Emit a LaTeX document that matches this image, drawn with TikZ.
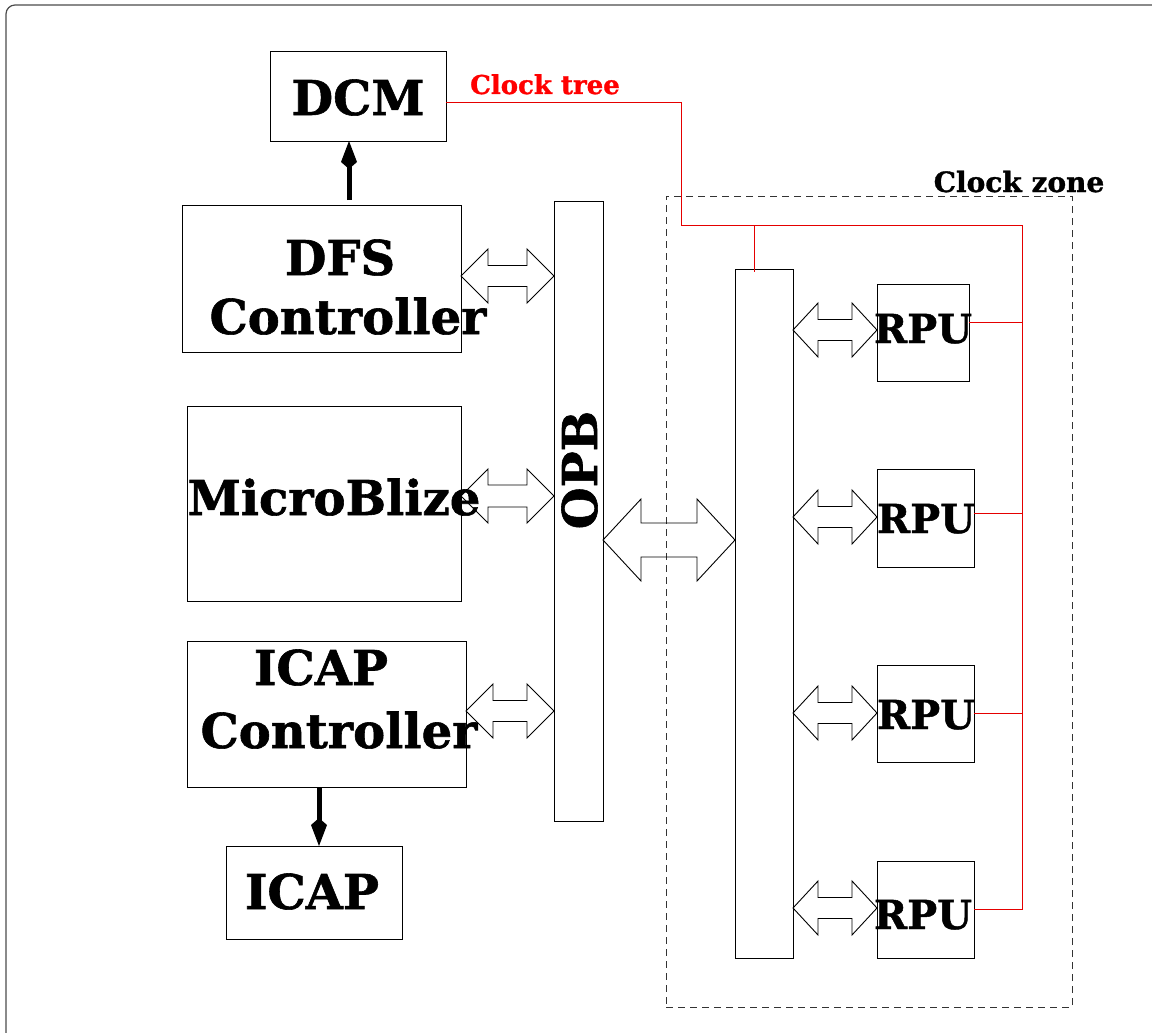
\documentclass[tikz,border=0pt]{standalone}
\usepackage{fontspec}
\setmainfont{DejaVu Serif}[BoldFeatures={FakeBold=1.2}]
\usetikzlibrary{arrows.meta,calc}
\newcommand\dblarr[6]{% left anchor, right anchor, y, head length, head half height, shaft half height
  \draw[hollow] let \p1=(#1), \p2=(#2) in
    (\x1,-#3pt) -- ++(#4,-#5) -- ++(0,#5-#6) -- (\x2-#4pt,-#3pt+#6pt) -- ++(0,-#5+#6)
    -- (\x2,-#3pt) -- ++(-#4,#5) -- ++(0,-#5+#6) -- (\x1+#4pt,-#3pt-#6pt) -- ++(0,#5-#6) -- cycle;}
\begin{document}
\begin{tikzpicture}[x=1pt,y=-1pt,
  box/.style={draw=black, line width=1pt, inner sep=0pt, outer sep=0pt, anchor=north west},
  big/.style={font=\bfseries\fontsize{48}{48}\selectfont, inner sep=0pt, anchor=base},
  mid/.style={font=\bfseries\fontsize{40}{40}\selectfont, inner sep=0pt, anchor=base},
  small/.style={font=\bfseries\fontsize{28}{28}\selectfont, inner sep=0pt, anchor=base},
  hollow/.style={draw=black, line width=0.9pt, line join=miter},
  clk/.style={draw=red!90!black, line width=0.9pt},
  thick arrow/.style={line width=5pt, -{Kite[length=28pt,width=16pt,inset=7pt]}}]
\useasboundingbox (0,0) rectangle (1152,1033);
\draw[rounded corners=9pt, draw=black!70, line width=1.2pt] (6,5) rectangle (1162,1048);

% boxes
\node[box, minimum width=176, minimum height=89] (dcm) at (270,52) {};
\node[box, minimum width=279, minimum height=147] (dfs) at (182,205) {};
\node[box, minimum width=274, minimum height=195] (micro) at (187,406) {};
\node[box, minimum width=279, minimum height=146] (icapc) at (187,641) {};
\node[box, minimum width=176, minimum height=93] (icap) at (226,846) {};
\node[box, minimum width=49, minimum height=620] (opb) at (554,201) {};
\node[box, minimum width=58, minimum height=689] (bus) at (735,269) {};
\node[box, minimum width=92, minimum height=97] (rpu1) at (877,284) {};
\node[box, minimum width=97, minimum height=98] (rpu2) at (877,469) {};
\node[box, minimum width=97, minimum height=97] (rpu3) at (877,665) {};
\node[box, minimum width=97, minimum height=97] (rpu4) at (877,861) {};
\node[box, draw=black!80, dashed, dash pattern=on 7pt off 5pt, line width=0.9pt, minimum width=406, minimum height=811] (zone) at (666,196) {};

% texts
\node[big] (tdcm) at (358,115) {DCM};
\node[big] (tdfs1) at (340,275) {DFS};
\node[big] (tdfs2) at (348,334) {Controller};
\node[big] (tmicro) at (334,515) {MicroBlize};
\node[big] (tic1) at (321,685) {ICAP};
\node[big] (tic2) at (339,748) {Controller};
\node[big] (ticap) at (312,909) {ICAP};
\node[big, rotate=90] (topb) at (597,470) {OPB};
\node[mid] (tr1) at (923,343) {RPU};
\node[mid] (tr2) at (926,533) {RPU};
\node[mid] (tr3) at (926,729) {RPU};
\node[mid] (tr4) at (923,929) {RPU};
\node[small] (tzone) at (1019,192) {Clock zone};
\node[small, text=red, font=\bfseries\fontsize{26}{26}\selectfont] (ttree) at (545,94) {Clock tree};

% control arrows
\coordinate (ax1) at (349,0);
\coordinate (ax2) at (319,0);
\draw[thick arrow] ([yshift=5pt]ax1 |- dfs.north) -- (ax1 |- dcm.south);
\draw[thick arrow] (ax2 |- icapc.south) -- (ax2 |- icap.north);

% bus arrows
\dblarr{dfs.east}{opb.west}{276}{27}{27}{10.5}
\dblarr{micro.east}{opb.west}{496}{27}{27}{11}
\dblarr{icapc.east}{opb.west}{711}{27}{27}{10.5}
\dblarr{opb.east}{bus.west}{540}{38}{41}{17}
\dblarr{bus.east}{rpu1.west}{330}{25}{27}{10.5}
\dblarr{bus.east}{rpu2.west}{517}{25}{27}{10.5}
\dblarr{bus.east}{rpu3.west}{713}{25}{27}{10.5}
\dblarr{bus.east}{rpu4.west}{908}{25}{27}{10.5}

% clock tree
\coordinate (cy0) at (0,102);
\coordinate (cx1) at (681,0);
\coordinate (cy1) at (0,225);
\coordinate (cx2) at (1022,0);
\coordinate (cx3) at (754,0);
\draw[clk] (dcm.east |- cy0) -- (cx1 |- cy0) -- (cx1 |- cy1) -- (cx2 |- cy1) -- (cx2 |- rpu4.east);
\draw[clk] (cx3 |- cy1) -- ([yshift=-3pt]cx3 |- bus.north);
\draw[clk] ([yshift=10pt]rpu1.east) -- ([yshift=10pt]cx2 |- rpu1.east);
\draw[clk] ([yshift=5pt]rpu2.east) -- ([yshift=5pt]cx2 |- rpu2.east);
\draw[clk] (rpu3.east) -- (cx2 |- rpu3.east);
\draw[clk] (rpu4.east) -- (cx2 |- rpu4.east);
\end{tikzpicture}
\end{document}
